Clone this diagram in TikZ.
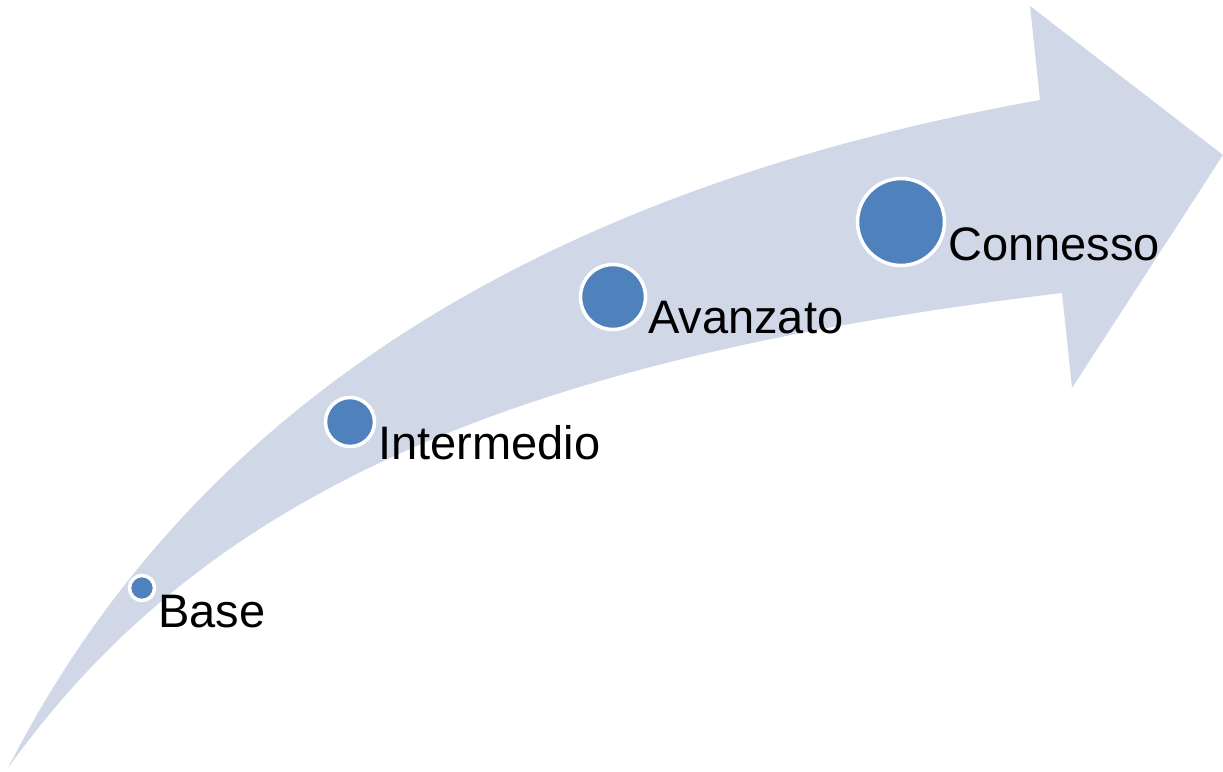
\documentclass[tikz,border=0pt]{standalone}
\usepackage{fontspec}
\setmainfont{Liberation Sans}
\definecolor{arrowfill}{HTML}{D0D8E8}
\definecolor{dotblue}{HTML}{4F81BD}
\begin{document}
\begin{tikzpicture}[x=1pt,y=-1pt,
  dot/.style={circle,fill=dotblue,draw=white,line width=3.5pt,inner sep=0pt},
  lbl/.style={anchor=base west,inner sep=0pt,font=\fontsize{47}{51}\selectfont}]
\useasboundingbox (0,0) rectangle (1223,771);
\fill[arrowfill] (8,768) .. controls (170,450) and (480,200) .. (1040,100)
  -- (1030,6) -- (1223,155) -- (1072,388) -- (1062,293)
  .. controls (500,360) and (200,500) .. (8,768) -- cycle;
\node[dot,minimum size=25pt] (base) at (142,588) {};
\node[dot,minimum size=49pt] (inter) at (350,422) {};
\node[dot,minimum size=65pt] (avan) at (613,297) {};
\node[dot,minimum size=87pt] (conn) at (901,222) {};
\node[lbl] (tbase) at (158,627) {Base};
\node[lbl] (tinter) at (378,459) {Intermedio};
\node[lbl] (tavan) at (648,333) {Avanzato};
\node[lbl] (tconn) at (948,260) {Connesso};
\end{tikzpicture}
\end{document}
